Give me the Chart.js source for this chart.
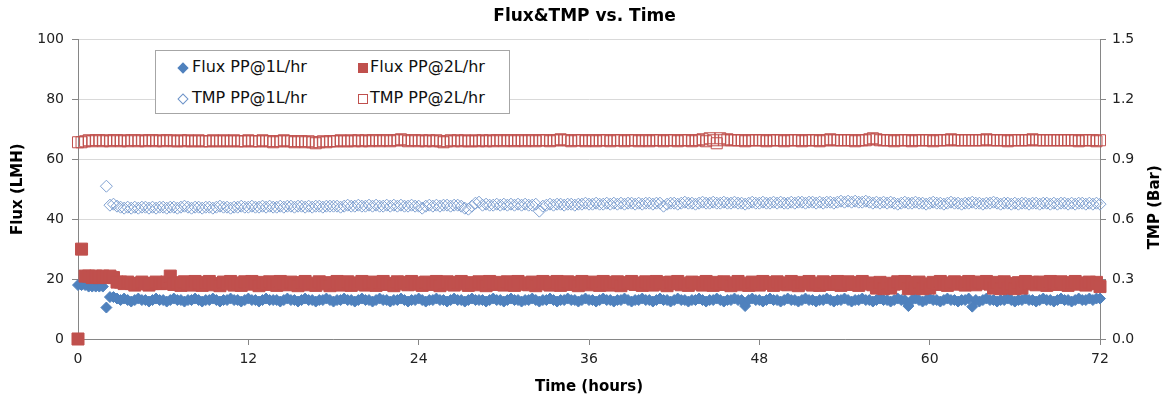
<!DOCTYPE html>
<html>
<head>
<meta charset="utf-8">
<script src="https://cdn.jsdelivr.net/npm/chart.js@4.4.0/dist/chart.umd.min.js"></script>
<style>
    body { margin: 0; background: #fff; }
    #wrap { position: relative; width: 1169px; height: 402px; }
    #legend {
        position: absolute; left: 155px; top: 50px; width: 353px; height: 62px;
        border: 1px solid #a6a6a6; background: #fff;
        font-family: "DejaVu Sans", sans-serif; font-size: 16px; color: #111;
    }
    .item { position: absolute; white-space: nowrap; line-height: 18px; }
    .mk { position: absolute; box-sizing: border-box; }
    .dia { width: 8px; height: 8px; transform: rotate(45deg); }
</style>
</head>
<body>
<div id="wrap">
    <canvas id="flux-tmp" width="1169" height="402"></canvas>
    <div id="legend">
        <div class="mk dia" style="left:23px;top:13px;background:#4F81BD;"></div>
        <div class="item" style="left:36px;top:7px;">Flux PP@1L/hr</div>
        <div class="mk" style="left:202px;top:12px;width:10px;height:10px;background:#C0504D;"></div>
        <div class="item" style="left:214px;top:7px;">Flux PP@2L/hr</div>
        <div class="mk dia" style="left:23px;top:44px;border:1px solid #6d93c9;background:#fff;"></div>
        <div class="item" style="left:36px;top:38px;">TMP PP@1L/hr</div>
        <div class="mk" style="left:202px;top:43px;width:10px;height:10px;border:1px solid #C0504D;background:#fff;"></div>
        <div class="item" style="left:214px;top:38px;">TMP PP@2L/hr</div>
    </div>
</div>
<script>
// time axis (hours), one reading every 15 min
const timeHours = [
    0, 0.25, 0.5, 0.75, 1, 1.25, 1.5, 1.75, 2, 2.25, 2.5, 2.75,
    3, 3.25, 3.5, 3.75, 4, 4.25, 4.5, 4.75, 5, 5.25, 5.5, 5.75,
    6, 6.25, 6.5, 6.75, 7, 7.25, 7.5, 7.75, 8, 8.25, 8.5, 8.75,
    9, 9.25, 9.5, 9.75, 10, 10.25, 10.5, 10.75, 11, 11.25, 11.5, 11.75,
    12, 12.25, 12.5, 12.75, 13, 13.25, 13.5, 13.75, 14, 14.25, 14.5, 14.75,
    15, 15.25, 15.5, 15.75, 16, 16.25, 16.5, 16.75, 17, 17.25, 17.5, 17.75,
    18, 18.25, 18.5, 18.75, 19, 19.25, 19.5, 19.75, 20, 20.25, 20.5, 20.75,
    21, 21.25, 21.5, 21.75, 22, 22.25, 22.5, 22.75, 23, 23.25, 23.5, 23.75,
    24, 24.25, 24.5, 24.75, 25, 25.25, 25.5, 25.75, 26, 26.25, 26.5, 26.75,
    27, 27.25, 27.5, 27.75, 28, 28.25, 28.5, 28.75, 29, 29.25, 29.5, 29.75,
    30, 30.25, 30.5, 30.75, 31, 31.25, 31.5, 31.75, 32, 32.25, 32.5, 32.75,
    33, 33.25, 33.5, 33.75, 34, 34.25, 34.5, 34.75, 35, 35.25, 35.5, 35.75,
    36, 36.25, 36.5, 36.75, 37, 37.25, 37.5, 37.75, 38, 38.25, 38.5, 38.75,
    39, 39.25, 39.5, 39.75, 40, 40.25, 40.5, 40.75, 41, 41.25, 41.5, 41.75,
    42, 42.25, 42.5, 42.75, 43, 43.25, 43.5, 43.75, 44, 44.25, 44.5, 44.75,
    45, 45.25, 45.5, 45.75, 46, 46.25, 46.5, 46.75, 47, 47.25, 47.5, 47.75,
    48, 48.25, 48.5, 48.75, 49, 49.25, 49.5, 49.75, 50, 50.25, 50.5, 50.75,
    51, 51.25, 51.5, 51.75, 52, 52.25, 52.5, 52.75, 53, 53.25, 53.5, 53.75,
    54, 54.25, 54.5, 54.75, 55, 55.25, 55.5, 55.75, 56, 56.25, 56.5, 56.75,
    57, 57.25, 57.5, 57.75, 58, 58.25, 58.5, 58.75, 59, 59.25, 59.5, 59.75,
    60, 60.25, 60.5, 60.75, 61, 61.25, 61.5, 61.75, 62, 62.25, 62.5, 62.75,
    63, 63.25, 63.5, 63.75, 64, 64.25, 64.5, 64.75, 65, 65.25, 65.5, 65.75,
    66, 66.25, 66.5, 66.75, 67, 67.25, 67.5, 67.75, 68, 68.25, 68.5, 68.75,
    69, 69.25, 69.5, 69.75, 70, 70.25, 70.5, 70.75, 71, 71.25, 71.5, 71.75,
    72
];

// Flux (LMH), left axis
const fluxPP1 = [
    18, 18, 18, 17.5, 17.5, 17.5, 17.5, 17.5, 10.5, 14, 14, 13.5,
    13, 13.5, 13, 12.5, 13, 13.5, 13, 13, 12.5, 13, 13.5, 13,
    13, 12.5, 13, 13.5, 13, 13, 12.5, 13, 13, 13.5, 13, 12.5,
    13, 13, 13.5, 13, 12.5, 13, 13, 13.5, 13, 13, 12.5, 13,
    13.5, 13, 13, 12.5, 13, 13.5, 13, 13, 13, 12.5, 13, 13.5,
    13, 13, 12.5, 13, 13.5, 13, 13, 12.5, 13, 13, 13.5, 13,
    12.5, 13, 13, 13.5, 13, 13, 12.5, 13, 13.5, 13, 13, 12.5,
    13, 13.5, 13, 13, 12.5, 13, 13, 13.5, 13, 12.5, 13, 13,
    13.5, 13, 12.5, 13, 13, 13.5, 13, 13, 12.5, 13, 13.5, 13,
    13, 12.5, 13, 13.5, 13, 13, 13, 12.5, 13, 13.5, 13, 13,
    12.5, 13, 13.5, 13, 13, 12.5, 13, 13, 13.5, 13, 12.5, 13,
    13, 13.5, 13, 12.5, 13, 13, 13.5, 13, 13, 12.5, 13, 13.5,
    13, 13, 12.5, 13, 13.5, 13, 13, 12.5, 13, 13, 13.5, 13,
    12.5, 13, 13, 13.5, 13, 13, 12.5, 13, 13.5, 13, 13, 12.5,
    13, 13.5, 13, 13, 12.5, 13, 13, 13.5, 13, 12.5, 13, 13,
    13.5, 13, 12.5, 13, 13, 13.5, 13, 13, 11, 13, 13.5, 13,
    13, 12.5, 13, 13.5, 13, 13, 12.5, 13, 13.5, 13, 13, 12.5,
    13, 13.5, 13, 13, 12.5, 13, 13, 13.5, 13, 12.5, 13, 13,
    13.5, 13, 12.5, 13, 13, 13.5, 13, 13, 12.5, 13, 13.5, 13,
    13, 12.5, 13, 13.5, 13, 13, 11, 13, 13.5, 13, 12.5, 13,
    13.5, 13, 13, 12.5, 13, 13.5, 13, 13, 12.5, 13, 13, 13.5,
    10.8, 13, 12.5, 13, 13.5, 13, 13, 12.5, 13, 13, 13.5, 13,
    12.5, 13, 13, 13.5, 13, 13, 12.5, 13, 13.5, 13, 13, 12.5,
    13, 13.5, 13, 13, 12.5, 13, 13.5, 13, 13, 13.5, 13, 13.5,
    13.5
];
const fluxPP2 = [
    0, 30, 21, 21, 20.5, 21, 20.5, 21, 20.5, 21, 20.5, 19,
    19, 18.5, 19, 18.5, 18, 18.5, 19, 18.5, 18, 18.5, 19, 18.5,
    18.5, 19, 21, 18.2, 18.8, 17.9, 19.1, 18.4, 18, 19.2, 18.6, 17.9,
    18.8, 19.2, 18.1, 18.5, 17.8, 19, 18.4, 19.2, 18, 18.7, 17.9, 19.1,
    18.3, 19.2, 18.6, 17.8, 18.9, 18.2, 19.1, 18.5, 17.9, 19.2, 18.4, 18.1,
    19, 18.3, 17.8, 18.8, 19.2, 18.1, 18.6, 17.9, 19.1, 18.4, 18.8, 17.8,
    18.6, 19.2, 18, 18.5, 19.1, 17.9, 18.7, 18.3, 19.2, 18, 18.6, 19,
    17.9, 18.8, 19.2, 18.2, 18.5, 17.8, 19.1, 18.4, 18.9, 18.1, 19.2, 18.3,
    18.7, 17.9, 19, 18.5, 18.2, 19.2, 17.8, 18.6, 19.1, 18.3, 18, 18.9,
    19.2, 18.4, 17.9, 18.8, 18.1, 19.1, 18.5, 17.8, 19.2, 18.6, 18.2, 18.9,
    18, 19.1, 18.5, 17.9, 19.2, 18.3, 18.7, 18.1, 19, 17.8, 18.6, 19.2,
    18.4, 18, 18.9, 19.2, 17.9, 18.5, 19.1, 18.2, 18.8, 17.8, 19.2, 18.5,
    18.1, 19, 18.6, 17.9, 19.2, 18.4, 18, 18.9, 19.1, 17.8, 18.5, 18.8,
    19.2, 18.2, 18.7, 17.9, 19.1, 18.5, 18, 19.2, 18.3, 18.8, 17.8, 19,
    18.5, 19.2, 18.1, 18.6, 17.9, 19, 18.4, 18.8, 18, 19.2, 18.3, 17.9,
    18.9, 18.2, 19.1, 18.5, 17.8, 18.7, 19.2, 18.1, 18.6, 17.9, 19, 18.4,
    18, 19.2, 18.5, 18.8, 17.9, 19.1, 18.3, 18.7, 18.1, 19.2, 18.5, 17.8,
    18.9, 18.4, 19.2, 18, 18.6, 17.9, 19.1, 18.5, 18.2, 18.8, 19.2, 17.9,
    18.5, 19.1, 18.2, 18.8, 17.9, 19.2, 18.4, 18.7, 18.1, 17, 18.9, 16.8,
    18.6, 17, 18.3, 19.1, 18.5, 19.2, 16.8, 18.8, 17, 19, 16.8, 18.4,
    17, 18.9, 18.2, 19.2, 18.5, 17.9, 18.7, 19.1, 18.3, 18.8, 18, 19.2,
    18.5, 18.1, 19, 18.6, 19.2, 18.3, 17, 18.9, 16.8, 19.1, 17, 18.5,
    16.8, 18.8, 17, 19.2, 18.4, 18.9, 18.1, 19, 18.5, 17.9, 19.2, 18.6,
    18.2, 19.1, 18.5, 17.9, 18.8, 19.2, 18.3, 18.7, 18, 19, 18.5, 18.9,
    17.5
];

// TMP (Bar), right axis
const tmpPP1 = [
    null, null, null, null, null, null, null, null, 0.765, 0.67, 0.675, 0.665,
    0.66, 0.655, 0.66, 0.655, 0.66, 0.655, 0.66, 0.66, 0.655, 0.66, 0.655, 0.66,
    0.66, 0.655, 0.66, 0.66, 0.655, 0.66, 0.665, 0.66, 0.655, 0.66, 0.66, 0.655,
    0.66, 0.66, 0.655, 0.66, 0.665, 0.66, 0.66, 0.655, 0.66, 0.66, 0.665, 0.66,
    0.66, 0.665, 0.66, 0.66, 0.665, 0.66, 0.665, 0.66, 0.66, 0.665, 0.66, 0.665,
    0.665, 0.66, 0.665, 0.665, 0.66, 0.665, 0.66, 0.665, 0.665, 0.66, 0.665, 0.665,
    0.665, 0.665, 0.66, 0.665, 0.67, 0.665, 0.665, 0.67, 0.665, 0.665, 0.67, 0.665,
    0.67, 0.665, 0.665, 0.67, 0.665, 0.67, 0.665, 0.67, 0.665, 0.665, 0.67, 0.665,
    0.665, 0.655, 0.665, 0.67, 0.665, 0.67, 0.665, 0.67, 0.67, 0.665, 0.67, 0.67,
    0.665, 0.655, 0.65, 0.665, 0.68, 0.685, 0.67, 0.675, 0.67, 0.67, 0.675, 0.67,
    0.675, 0.67, 0.675, 0.67, 0.675, 0.67, 0.675, 0.67, 0.67, 0.675, 0.64, 0.665,
    0.67, 0.675, 0.67, 0.675, 0.675, 0.67, 0.675, 0.675, 0.67, 0.675, 0.675, 0.68,
    0.675, 0.675, 0.68, 0.675, 0.675, 0.68, 0.675, 0.68, 0.675, 0.68, 0.675, 0.68,
    0.68, 0.675, 0.68, 0.675, 0.68, 0.68, 0.675, 0.68, 0.68, 0.665, 0.675, 0.68,
    0.68, 0.675, 0.68, 0.685, 0.68, 0.68, 0.675, 0.68, 0.685, 0.68, 0.68, 0.685,
    0.68, 0.68, 0.685, 0.68, 0.68, 0.685, 0.68, 0.68, 0.675, 0.68, 0.685, 0.68,
    0.68, 0.685, 0.68, 0.68, 0.685, 0.68, 0.685, 0.68, 0.68, 0.685, 0.68, 0.685,
    0.685, 0.68, 0.685, 0.685, 0.68, 0.685, 0.68, 0.685, 0.685, 0.68, 0.685, 0.69,
    0.685, 0.69, 0.685, 0.69, 0.685, 0.685, 0.69, 0.685, 0.68, 0.685, 0.68, 0.685,
    0.68, 0.685, 0.68, 0.675, 0.68, 0.685, 0.68, 0.68, 0.685, 0.68, 0.68, 0.675,
    0.68, 0.685, 0.68, 0.68, 0.675, 0.68, 0.685, 0.68, 0.68, 0.675, 0.68, 0.68,
    0.685, 0.68, 0.68, 0.675, 0.68, 0.68, 0.685, 0.68, 0.675, 0.68, 0.68, 0.675,
    0.68, 0.675, 0.68, 0.68, 0.675, 0.68, 0.68, 0.675, 0.68, 0.68, 0.675, 0.68,
    0.675, 0.68, 0.68, 0.675, 0.68, 0.675, 0.68, 0.68, 0.675, 0.68, 0.675, 0.68,
    0.675
];
const tmpPP2 = [
    0.985, 0.985, 0.99, 0.995, 0.99, 0.995, 0.995, 0.99, 0.995, 0.99, 0.995, 0.995,
    0.99, 0.995, 0.99, 0.995, 0.995, 0.99, 0.995, 0.99, 0.995, 0.995, 0.99, 0.995,
    0.99, 0.995, 0.995, 0.99, 0.99, 0.995, 0.99, 0.995, 0.99, 0.99, 0.995, 0.99,
    0.99, 0.99, 0.995, 0.99, 0.99, 0.995, 0.99, 0.99, 0.995, 0.99, 0.99, 0.99,
    0.995, 0.99, 0.99, 0.99, 0.995, 0.99, 0.99, 0.985, 0.99, 0.99, 0.995, 0.99,
    0.99, 0.985, 0.99, 0.99, 0.985, 0.99, 0.985, 0.98, 0.985, 0.99, 0.985, 0.99,
    0.99, 0.99, 0.995, 0.99, 0.99, 0.995, 0.99, 0.995, 0.99, 0.995, 0.99, 0.995,
    0.995, 0.99, 0.995, 0.995, 0.99, 0.995, 0.995, 1.0, 0.995, 0.99, 0.995, 0.995,
    0.99, 0.995, 0.99, 0.995, 0.99, 0.995, 0.99, 0.985, 0.99, 0.995, 0.99, 0.995,
    0.99, 0.995, 0.99, 0.99, 0.995, 0.99, 0.995, 0.99, 0.995, 0.99, 0.995, 0.995,
    0.99, 0.995, 0.995, 0.99, 0.995, 0.995, 0.99, 0.995, 0.995, 0.99, 0.995, 0.995,
    0.995, 0.99, 0.995, 0.995, 1.0, 0.995, 0.995, 0.99, 0.995, 0.995, 0.995, 0.99,
    0.995, 0.995, 0.99, 0.995, 0.995, 0.995, 0.99, 0.995, 0.995, 0.995, 0.99, 0.995,
    0.995, 0.995, 0.99, 0.995, 0.995, 0.99, 0.995, 0.995, 0.995, 0.99, 0.995, 0.995,
    0.995, 0.99, 0.995, 0.995, 0.995, 0.99, 0.995, 0.995, 1.0, 0.99, 1.005, 0.995,
    0.98, 1.005, 0.995, 1.0, 0.995, 0.995, 0.995, 0.995, 0.99, 0.995, 0.995, 0.995,
    0.995, 0.995, 0.99, 0.995, 0.995, 0.995, 0.995, 0.99, 0.995, 0.995, 0.995, 0.995,
    0.99, 0.995, 0.995, 0.995, 0.995, 0.99, 0.995, 0.995, 1.0, 0.995, 0.995, 0.995,
    0.995, 0.995, 0.995, 0.99, 0.995, 0.995, 0.995, 1.0, 1.005, 1.0, 0.995, 0.995,
    0.995, 0.995, 0.99, 0.995, 0.995, 0.995, 0.995, 0.99, 0.995, 0.995, 0.995, 0.995,
    0.995, 0.99, 0.995, 0.995, 0.995, 0.995, 1.0, 0.995, 0.995, 0.995, 0.995, 0.995,
    0.995, 0.995, 0.995, 0.995, 1.0, 0.995, 0.995, 0.995, 0.995, 0.995, 0.99, 0.995,
    0.995, 0.995, 0.995, 0.995, 0.995, 1.0, 0.995, 0.995, 0.995, 0.995, 0.995, 0.995,
    0.995, 0.995, 0.995, 0.995, 0.995, 0.995, 0.99, 0.995, 0.995, 0.995, 0.995, 0.99,
    0.995
];

const leftTicks = [0, 20, 40, 60, 80, 100];
const rightTicks = [0, 0.3, 0.6, 0.9, 1.2, 1.5];
const timeTicks = [0, 12, 24, 36, 48, 60, 72];

function toPoints(values) {
    return timeHours.map((t, i) => ({ x: t, y: values[i] }));
}

const tickFont = { family: '"DejaVu Sans", sans-serif', size: 14 };
const titleFont = { family: '"DejaVu Sans", sans-serif', size: 15, weight: 'bold' };

//! right axis title reads bottom-to-top like Excel
const rightTitle = {
    id: 'rightTitle',
    afterDraw(chart) {
        const ctx = chart.ctx;
        const area = chart.chartArea;
        ctx.save();
        ctx.translate(1155, (area.top + area.bottom) / 2 + 18);
        ctx.rotate(-Math.PI / 2);
        ctx.font = 'bold 15px "DejaVu Sans", sans-serif';
        ctx.fillStyle = '#000';
        ctx.textAlign = 'center';
        ctx.textBaseline = 'middle';
        ctx.fillText('TMP (Bar)', 0, 0);
        ctx.restore();
    }
};

const ctx = document.getElementById('flux-tmp').getContext('2d');

new Chart(ctx, {
    type: 'scatter',
    data: {
        datasets: [
            {
                label: 'Flux PP@1L/hr',
                data: toPoints(fluxPP1),
                yAxisID: 'y',
                pointStyle: 'rectRot',
                pointRadius: 5.5,
                backgroundColor: '#4F81BD',
                borderColor: '#4F81BD',
                borderWidth: 1,
                order: 2,
                clip: false,
            },
            {
                label: 'Flux PP@2L/hr',
                data: toPoints(fluxPP2),
                yAxisID: 'y',
                pointStyle: 'rect',
                pointRadius: 8.5,
                backgroundColor: '#C0504D',
                borderColor: '#C0504D',
                borderWidth: 1,
                order: 1,
                clip: false,
            },
            {
                label: 'TMP PP@1L/hr',
                data: toPoints(tmpPP1),
                yAxisID: 'y1',
                pointStyle: 'rectRot',
                pointRadius: 6,
                backgroundColor: 'rgba(255, 255, 255, 0)',
                borderColor: '#7d9fd0',
                borderWidth: 1,
                order: 4,
                clip: false,
            },
            {
                label: 'TMP PP@2L/hr',
                data: toPoints(tmpPP2),
                yAxisID: 'y1',
                pointStyle: 'rect',
                pointRadius: 7.8,
                backgroundColor: 'rgba(255, 255, 255, 0)',
                borderColor: '#C0504D',
                borderWidth: 1,
                order: 3,
                clip: false,
            }
        ]
    },
    options: {
        responsive: false,
        animation: false,
        events: [],
        layout: { padding: { left: 0, right: 0, top: 0, bottom: 0 } },
        scales: {
            x: {
                type: 'linear',
                min: 0,
                max: 72,
                afterBuildTicks: (scale) => { scale.ticks = timeTicks.map(v => ({ value: v })); },
                afterFit: (scale) => { scale.height = 63; },
                grid: { drawOnChartArea: false, tickLength: 6, tickColor: '#868686' },
                border: { color: '#868686' },
                ticks: { font: tickFont, color: '#222', padding: 6, maxRotation: 0 },
                title: { display: true, text: 'Time (hours)', font: titleFont, color: '#000', padding: { top: 0, bottom: 6 } }
            },
            y: {
                position: 'left',
                min: 0,
                max: 100,
                afterBuildTicks: (scale) => { scale.ticks = leftTicks.map(v => ({ value: v })); },
                afterFit: (scale) => { scale.width = 78; },
                grid: { color: '#d9d9d9', tickLength: 6, tickColor: '#868686' },
                border: { color: '#868686' },
                ticks: { font: tickFont, color: '#222', padding: 8 },
                title: { display: true, text: 'Flux (LMH)', font: titleFont, color: '#000', padding: { top: 9, bottom: 0 } }
            },
            y1: {
                position: 'right',
                min: 0,
                max: 1.5,
                afterBuildTicks: (scale) => { scale.ticks = rightTicks.map(v => ({ value: v })); },
                afterFit: (scale) => { scale.width = 69; },
                grid: { drawOnChartArea: false, tickLength: 6, tickColor: '#868686' },
                border: { color: '#868686' },
                ticks: { font: tickFont, color: '#222', padding: 6, callback: (v) => v.toFixed(1) }
            }
        },
        plugins: {
            legend: { display: false },
            tooltip: { enabled: false },
            title: {
                display: true,
                text: 'Flux&TMP vs. Time',
                font: { family: '"DejaVu Sans", sans-serif', size: 17, weight: 'bold' },
                color: '#000',
                padding: { top: 6, bottom: 13 }
            }
        }
    },
    plugins: [rightTitle]
});
</script>
</body>
</html>
